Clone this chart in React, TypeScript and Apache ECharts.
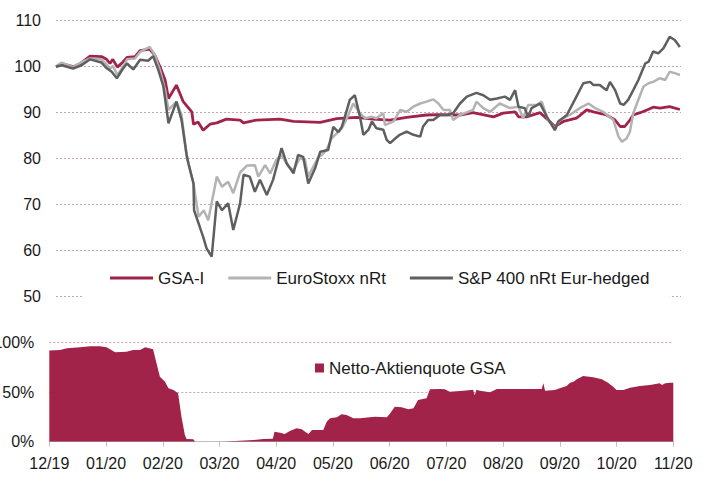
import React, { useEffect, useRef } from "react";
import * as echarts from "echarts";

// x values are months since 12/2019 (0 = 12/19, 11 = 11/20)
const monthLabels = ["12/19", "01/20", "02/20", "03/20", "04/20", "05/20", "06/20", "07/20", "08/20", "09/20", "10/20", "11/20"];

const gsaPerf: [number, number][] = [
  [0, 100], [0.1, 100.7], [0.3, 100.0], [0.42, 100.6], [0.6, 102.3], [0.8, 102.2], [0.89, 101.6], [0.95, 100.7],
  [1.0, 101.6], [1.08, 99.9], [1.17, 100.9], [1.25, 102.0], [1.39, 102.2], [1.48, 103.5], [1.65, 103.8], [1.74, 102.5],
  [1.83, 100.0], [1.92, 97.1], [1.98, 93.1], [2.12, 96.0], [2.24, 92.4], [2.39, 90.2], [2.42, 87.5], [2.5, 88.0],
  [2.59, 86.2], [2.71, 87.5], [2.83, 87.8], [3.0, 88.6], [3.24, 88.4], [3.3, 87.8], [3.53, 88.4], [3.94, 88.6],
  [4.18, 88.1], [4.65, 87.9], [4.94, 88.7], [5.29, 89.0], [5.58, 88.6], [5.88, 88.4], [6.17, 89.0], [6.52, 89.5],
  [6.76, 89.6], [6.99, 89.5], [7.11, 89.5], [7.34, 90.0], [7.7, 89.1], [7.87, 89.9], [8.08, 90.2], [8.14, 89.1],
  [8.28, 89.1], [8.52, 90.0], [8.69, 88.1], [8.78, 87.0], [8.93, 88.1], [9.16, 88.8], [9.34, 90.6], [9.46, 90.2],
  [9.69, 89.5], [9.84, 88.4], [9.93, 87.0], [10.01, 87.0], [10.1, 88.4], [10.16, 89.5], [10.28, 90.0], [10.4, 90.6],
  [10.51, 91.2], [10.63, 91.0], [10.8, 91.3], [10.98, 90.7],
];

const euroPerf: [number, number][] = [
  [0, 100], [0.1, 100.9], [0.3, 99.9], [0.45, 101.0], [0.6, 101.8], [0.8, 101.6], [0.89, 100.5], [0.95, 99.5],
  [1.0, 100.2], [1.08, 98.2], [1.17, 99.8], [1.25, 101.6], [1.39, 101.8], [1.48, 103.2], [1.65, 104.3], [1.74, 102.5],
  [1.83, 99.2], [1.92, 95.0], [1.98, 90.6], [2.12, 92.4], [2.21, 89.5], [2.3, 80.4], [2.42, 74.6], [2.51, 67.4],
  [2.6, 68.8], [2.68, 66.6], [2.83, 76.1], [2.92, 73.9], [3.03, 75.0], [3.12, 72.5], [3.24, 77.0], [3.36, 78.5],
  [3.5, 78.6], [3.56, 76.1], [3.68, 78.6], [3.77, 76.8], [3.88, 79.8], [3.97, 80.8], [4.09, 78.3], [4.18, 77.5],
  [4.29, 80.1], [4.38, 79.8], [4.44, 76.1], [4.53, 78.3], [4.62, 80.4], [4.68, 80.8], [4.76, 81.9], [4.85, 84.4],
  [4.94, 85.5], [5.03, 86.6], [5.12, 88.8], [5.23, 92.0], [5.35, 89.9], [5.44, 88.8], [5.56, 89.1], [5.64, 88.8],
  [5.76, 89.9], [5.79, 87.3], [5.94, 88.1], [6.06, 90.6], [6.17, 90.2], [6.29, 91.3], [6.41, 92.0], [6.52, 92.4],
  [6.64, 92.9], [6.73, 92.0], [6.82, 90.6], [6.93, 90.6], [6.99, 88.4], [7.11, 89.5], [7.34, 90.6], [7.4, 92.4],
  [7.52, 91.0], [7.64, 90.2], [7.81, 92.0], [7.99, 91.0], [8.14, 91.3], [8.22, 88.8], [8.31, 91.7], [8.46, 91.7],
  [8.55, 92.4], [8.66, 88.4], [8.78, 86.6], [8.87, 88.4], [9.04, 89.5], [9.22, 91.0], [9.37, 92.0], [9.49, 91.0],
  [9.63, 90.2], [9.81, 88.4], [9.9, 84.8], [9.96, 83.7], [10.04, 84.4], [10.1, 85.8], [10.16, 89.9], [10.25, 92.8],
  [10.34, 95.7], [10.43, 96.4], [10.51, 96.7], [10.63, 97.5], [10.72, 97.1], [10.8, 98.9], [10.89, 98.6], [10.98, 98.2],
];

const spPerf: [number, number][] = [
  [0, 100], [0.1, 100.3], [0.3, 99.6], [0.45, 100.3], [0.6, 101.6], [0.8, 100.9], [0.89, 99.7], [0.98, 98.9],
  [1.07, 97.5], [1.18, 99.6], [1.25, 100.7], [1.36, 99.4], [1.48, 101.5], [1.62, 101.3], [1.71, 102.3], [1.8, 99.3],
  [1.89, 95.7], [1.98, 87.7], [2.12, 92.4], [2.21, 88.4], [2.3, 80.8], [2.33, 79.0], [2.42, 74.6], [2.43, 68.8],
  [2.53, 65.2], [2.59, 63.0], [2.65, 60.5], [2.74, 58.7], [2.83, 70.7], [2.92, 68.8], [3.03, 70.3], [3.12, 64.5],
  [3.24, 70.3], [3.3, 76.5], [3.41, 76.1], [3.5, 72.8], [3.59, 75.4], [3.71, 72.1], [3.82, 75.4], [3.97, 82.3],
  [4.06, 79.0], [4.18, 76.8], [4.26, 80.8], [4.35, 80.4], [4.44, 74.6], [4.56, 77.9], [4.65, 81.5], [4.79, 81.9],
  [4.88, 86.9], [4.97, 85.8], [5.03, 86.9], [5.12, 90.6], [5.17, 92.8], [5.26, 93.8], [5.35, 89.1], [5.41, 85.2],
  [5.5, 86.3], [5.56, 88.1], [5.64, 86.6], [5.76, 86.3], [5.82, 84.1], [5.88, 83.4], [5.97, 84.4], [6.05, 85.2],
  [6.17, 85.9], [6.29, 85.2], [6.41, 84.8], [6.46, 87.0], [6.55, 88.4], [6.64, 88.4], [6.76, 89.5], [6.88, 89.5],
  [6.99, 89.9], [7.11, 92.0], [7.23, 93.5], [7.4, 94.3], [7.52, 93.8], [7.64, 92.8], [7.76, 93.1], [7.9, 93.5],
  [7.99, 92.8], [8.08, 94.9], [8.14, 91.3], [8.25, 91.0], [8.31, 89.1], [8.37, 91.0], [8.52, 92.0], [8.64, 89.1],
  [8.78, 86.2], [8.84, 88.1], [8.99, 89.5], [9.13, 92.8], [9.28, 96.4], [9.4, 96.7], [9.46, 96.0], [9.57, 96.0],
  [9.69, 94.9], [9.75, 96.7], [9.84, 94.9], [9.93, 92.0], [9.99, 91.7], [10.07, 92.8], [10.16, 94.9], [10.25, 97.1],
  [10.37, 100.7], [10.43, 101.1], [10.51, 103.3], [10.6, 102.9], [10.69, 104.0], [10.8, 106.5], [10.89, 105.8], [10.98, 104.3],
];

const equityQuote: [number, number][] = [
  [0, 92], [0.19, 92.6], [0.31, 94.3], [0.54, 95.3], [0.72, 96.3], [0.89, 96.3], [1.01, 95.3], [1.16, 90.3],
  [1.36, 90.9], [1.48, 92.6], [1.6, 92.6], [1.69, 95.3], [1.83, 93.3], [1.89, 79.2], [1.95, 65.7], [2.04, 60.6],
  [2.1, 53.9], [2.19, 52.2], [2.27, 48.9], [2.33, 25.3], [2.39, 6.8], [2.42, 2.7], [2.54, 2.4], [2.57, 0],
  [3.1, 0], [3.19, 0.5], [3.36, 1], [3.6, 1.7], [3.77, 2.7], [3.94, 3.1], [3.97, 10.1], [4.07, 9.1],
  [4.15, 7.8], [4.24, 10.8], [4.36, 13.5], [4.45, 12.5], [4.51, 10.1], [4.57, 7.8], [4.63, 11.8], [4.83, 11.8],
  [4.89, 20.2], [4.95, 23.6], [5.07, 24.6], [5.15, 27.7], [5.24, 27], [5.36, 23.6], [5.48, 23.6], [5.65, 24.6],
  [5.74, 25.3], [5.95, 24.6], [6.01, 28.7], [6.09, 35.4], [6.21, 34.7], [6.33, 32.7], [6.42, 33.7], [6.5, 42.1],
  [6.65, 43.8], [6.71, 52.9], [6.89, 53.2], [6.97, 52.9], [7.06, 50.5], [7.3, 51.5], [7.47, 52.5], [7.5, 47],
  [7.53, 52.5], [7.59, 51.5], [7.77, 49.9], [7.89, 53.2], [8.68, 53.2], [8.71, 59], [8.74, 51.5], [8.91, 52.2],
  [9.0, 53.9], [9.12, 56.3], [9.18, 59.6], [9.24, 60.6], [9.3, 63], [9.41, 66.4], [9.59, 65], [9.74, 63],
  [9.85, 59.6], [9.94, 55.6], [10.0, 52.2], [10.12, 52.2], [10.24, 54.5], [10.41, 56.3], [10.59, 57.3], [10.76, 59],
  [10.8, 57.3], [10.86, 59], [10.95, 59.6], [11, 59.6],
];

const FONT = "'Liberation Sans', Arial, sans-serif";
const GRID_COLOR = "#c9a3ad";
const TEXT = "#1a1a1a";
const CRIMSON = "#a2234a";
const LIGHT = "#b3b3b3";
const DARK = "#5f5f5f";

export default function App() {
  const ref = useRef<HTMLDivElement>(null);
  useEffect(() => {
    document.body.style.margin = "0";
    const chart = echarts.init(ref.current!, null, { renderer: "svg" });
    chart.setOption({
      animation: false,
      backgroundColor: "#ffffff",
      textStyle: { fontFamily: FONT },
      grid: [
        { left: 56, right: 31, top: 20.7, height: 276, outerBoundsMode: "none", containLabel: false },
        { left: 49.3, right: 38.7, top: 342.7, height: 99, outerBoundsMode: "none", containLabel: false },
      ],
      xAxis: [
        { gridIndex: 0, type: "value", min: 0, max: 11, show: false },
        {
          gridIndex: 1, type: "value", min: 0, max: 11, interval: 1,
          axisLine: { show: true, lineStyle: { color: "#bfbfbf", width: 1 } },
          axisTick: { show: true, length: 5, lineStyle: { color: "#bfbfbf" } },
          splitLine: { show: false },
          axisLabel: {
            fontSize: 16, color: TEXT, margin: 14, fontFamily: FONT,
            formatter: (v: number) => monthLabels[Math.round(v)] ?? "",
          },
        },
      ],
      yAxis: [
        {
          gridIndex: 0, type: "value", min: 50, max: 110, interval: 10,
          axisLine: { show: false }, axisTick: { show: false },
          axisLabel: { fontSize: 16, color: TEXT, margin: 15, fontFamily: FONT },
          splitLine: { show: true, lineStyle: { color: GRID_COLOR, type: [2, 2], width: 1 } },
        },
        {
          gridIndex: 1, type: "value", min: 0, max: 100, interval: 50,
          axisLine: { show: false }, axisTick: { show: false },
          axisLabel: { fontSize: 16, color: TEXT, margin: 15, fontFamily: FONT, formatter: "{value}%" },
          splitLine: { show: true, lineStyle: { color: GRID_COLOR, type: [2, 2], width: 1 } },
        },
      ],
      legend: [
        {
          data: [
            { name: "GSA-I", itemStyle: { color: CRIMSON } },
            { name: "EuroStoxx nRt", itemStyle: { color: LIGHT } },
            { name: "S&P 400 nRt Eur-hedged", itemStyle: { color: DARK } },
          ],
          left: 84, top: 258, padding: [10, 20, 11, 26],
          backgroundColor: "#ffffff",
          icon: "rect", itemWidth: 43, itemHeight: 3, itemGap: 24,
          itemStyle: { borderWidth: 0 },
          textStyle: { fontSize: 17, color: TEXT, lineHeight: 20, fontFamily: FONT },
          selectedMode: false,
        },
        {
          data: [{ name: "Netto-Aktienquote GSA", itemStyle: { color: CRIMSON } }],
          left: 315, top: 358, padding: 0,
          icon: "rect", itemWidth: 9, itemHeight: 9,
          itemStyle: { borderWidth: 0 },
          textStyle: { fontSize: 17, color: TEXT, lineHeight: 20, fontFamily: FONT },
          selectedMode: false,
        },
      ],
      series: [
        {
          name: "GSA-I", type: "line", xAxisIndex: 0, yAxisIndex: 0, data: gsaPerf,
          symbol: "none", color: CRIMSON, lineStyle: { color: CRIMSON, width: 2.8 },
        },
        {
          name: "EuroStoxx nRt", type: "line", xAxisIndex: 0, yAxisIndex: 0, data: euroPerf,
          symbol: "none", color: LIGHT, lineStyle: { color: LIGHT, width: 2.5 },
        },
        {
          name: "S&P 400 nRt Eur-hedged", type: "line", xAxisIndex: 0, yAxisIndex: 0, data: spPerf,
          symbol: "none", color: DARK, lineStyle: { color: DARK, width: 2.5 },
        },
        {
          name: "Netto-Aktienquote GSA", type: "line", xAxisIndex: 1, yAxisIndex: 1, data: equityQuote,
          symbol: "none", color: CRIMSON, lineStyle: { width: 0 },
          areaStyle: { color: CRIMSON, opacity: 1 },
        },
      ],
    });
    return () => chart.dispose();
  }, []);
  return <div ref={ref} style={{ width: 712, height: 492 }} />;
}
